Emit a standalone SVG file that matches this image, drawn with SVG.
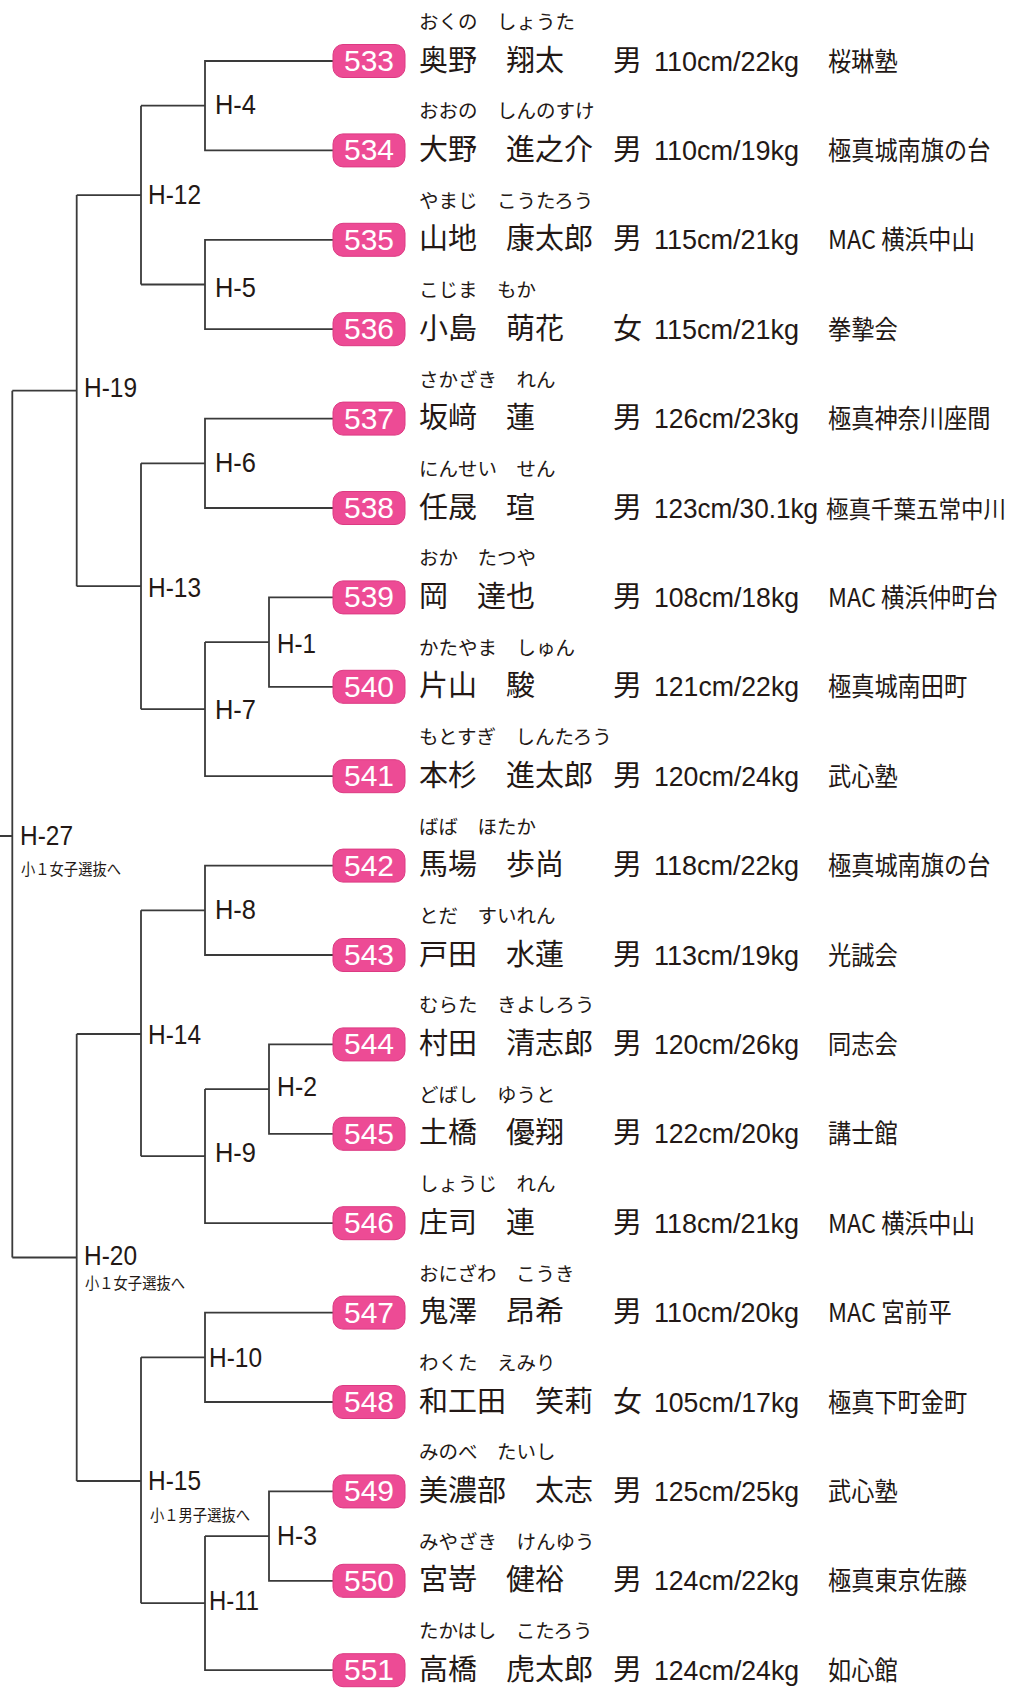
<svg xmlns="http://www.w3.org/2000/svg" width="1026" height="1691" viewBox="0 0 1026 1691">
<style>
.ln{fill:none;stroke:#3a3a3a;stroke-width:1.8}
.badge{fill:#ED4B95;stroke:#DC3A82;stroke-width:1}
.num{font-family:"Liberation Sans",sans-serif;font-size:30px;fill:#fff;text-anchor:middle}
.ruby{font-family:"Noto Sans CJK JP",sans-serif;font-size:19.5px;fill:#231815}
.nm{font-family:"Noto Sans CJK JP",sans-serif;font-size:29px;fill:#231815}
.ms{font-family:"Liberation Sans",sans-serif;font-size:28px;fill:#231815}
.dj{font-family:"Noto Sans CJK JP",sans-serif;font-size:26px;fill:#231815}
.hl{font-family:"Liberation Sans",sans-serif;font-size:27px;fill:#231815}
.sub{font-family:"Noto Sans CJK JP",sans-serif;font-size:16px;fill:#231815}
</style>
<rect width="1026" height="1691" fill="#fff"/>
<g id="connectors" class="ln">
<path d="M333 61H205V150.4H333M205 105.7H141"/>
<path d="M333 239.8H205V329.2H333M205 284.5H141"/>
<path d="M141 105.7V284.5M141 195.1H76.7"/>
<path d="M333 418.6H205V508H333M205 463.3H141"/>
<path d="M333 597.4H269V686.8H333M269 642.1H205"/>
<path d="M333 776.2H205V642.1M205 709.2H141"/>
<path d="M141 463.3V709.2M141 586.2H76.7"/>
<path d="M76.7 195.1V586.2M76.7 390.7H12.3"/>
<path d="M12.3 390.7V1257.5M12.3 836H0"/>
<path d="M333 865.6H205V955H333M205 910.3H141"/>
<path d="M333 1044.4H269V1133.8H333M269 1089.1H205"/>
<path d="M333 1223.2H205V1089.1M205 1156.2H141"/>
<path d="M141 910.3V1156.2M141 1034H76.7"/>
<path d="M333 1312.6H205V1402H333M205 1357.3H141"/>
<path d="M333 1491.4H269V1580.8H333M269 1536.1H205"/>
<path d="M333 1670.2H205V1536.1M205 1603.2H141"/>
<path d="M141 1357.3V1603.2M141 1481H76.7"/>
<path d="M76.7 1034V1481M76.7 1257.5H12.3"/>
</g>
<g id="H-4"><text class="hl" x="215" y="114" textLength="41" lengthAdjust="spacingAndGlyphs">H-4</text></g>
<g id="H-5"><text class="hl" x="215" y="297" textLength="41" lengthAdjust="spacingAndGlyphs">H-5</text></g>
<g id="H-12"><text class="hl" x="148" y="204" textLength="53" lengthAdjust="spacingAndGlyphs">H-12</text></g>
<g id="H-19"><text class="hl" x="84" y="397" textLength="53" lengthAdjust="spacingAndGlyphs">H-19</text></g>
<g id="H-6"><text class="hl" x="215" y="471.5" textLength="41" lengthAdjust="spacingAndGlyphs">H-6</text></g>
<g id="H-13"><text class="hl" x="148" y="596.5" textLength="53" lengthAdjust="spacingAndGlyphs">H-13</text></g>
<g id="H-1"><text class="hl" x="277" y="653" textLength="39" lengthAdjust="spacingAndGlyphs">H-1</text></g>
<g id="H-7"><text class="hl" x="215" y="719" textLength="41" lengthAdjust="spacingAndGlyphs">H-7</text></g>
<g id="H-27"><text class="hl" x="20" y="845" textLength="53" lengthAdjust="spacingAndGlyphs">H-27</text><text class="sub" x="21" y="875" textLength="100" lengthAdjust="spacingAndGlyphs">小１女子選抜へ</text></g>
<g id="H-8"><text class="hl" x="215" y="919" textLength="41" lengthAdjust="spacingAndGlyphs">H-8</text></g>
<g id="H-14"><text class="hl" x="148" y="1044" textLength="53" lengthAdjust="spacingAndGlyphs">H-14</text></g>
<g id="H-2"><text class="hl" x="277" y="1096" textLength="40" lengthAdjust="spacingAndGlyphs">H-2</text></g>
<g id="H-9"><text class="hl" x="215" y="1162" textLength="41" lengthAdjust="spacingAndGlyphs">H-9</text></g>
<g id="H-20"><text class="hl" x="84" y="1265" textLength="53" lengthAdjust="spacingAndGlyphs">H-20</text><text class="sub" x="85" y="1289" textLength="100" lengthAdjust="spacingAndGlyphs">小１女子選抜へ</text></g>
<g id="H-10"><text class="hl" x="209" y="1367" textLength="53" lengthAdjust="spacingAndGlyphs">H-10</text></g>
<g id="H-15"><text class="hl" x="148" y="1490" textLength="53" lengthAdjust="spacingAndGlyphs">H-15</text><text class="sub" x="150" y="1521" textLength="100" lengthAdjust="spacingAndGlyphs">小１男子選抜へ</text></g>
<g id="H-3"><text class="hl" x="277" y="1545" textLength="40" lengthAdjust="spacingAndGlyphs">H-3</text></g>
<g id="H-11"><text class="hl" x="209" y="1610" textLength="50" lengthAdjust="spacingAndGlyphs">H-11</text></g>

<g id="p533" transform="translate(0 61)"><rect class="badge" x="333" y="-16.5" width="72" height="33" rx="10"/><text class="num" x="369" y="10">533</text><text class="ruby" x="419" y="-32">おくの　しょうた</text><text class="nm" x="419" y="9.5">奥野　翔太</text><text class="nm" x="613" y="9.5">男</text><text class="ms" x="654" y="9.5" textLength="145" lengthAdjust="spacingAndGlyphs">110cm/22kg</text><text class="dj" x="828" y="9.5" textLength="69.6" lengthAdjust="spacingAndGlyphs">桜琳塾</text></g>
<g id="p534" transform="translate(0 150.4)"><rect class="badge" x="333" y="-16.5" width="72" height="33" rx="10"/><text class="num" x="369" y="10">534</text><text class="ruby" x="419" y="-32">おおの　しんのすけ</text><text class="nm" x="419" y="9.5">大野　進之介</text><text class="nm" x="613" y="9.5">男</text><text class="ms" x="654" y="9.5" textLength="145" lengthAdjust="spacingAndGlyphs">110cm/19kg</text><text class="dj" x="828" y="9.5" textLength="162.4" lengthAdjust="spacingAndGlyphs">極真城南旗の台</text></g>
<g id="p535" transform="translate(0 239.8)"><rect class="badge" x="333" y="-16.5" width="72" height="33" rx="10"/><text class="num" x="369" y="10">535</text><text class="ruby" x="419" y="-32">やまじ　こうたろう</text><text class="nm" x="419" y="9.5">山地　康太郎</text><text class="nm" x="613" y="9.5">男</text><text class="ms" x="654" y="9.5" textLength="145" lengthAdjust="spacingAndGlyphs">115cm/21kg</text><text class="dj" x="828" y="9.5" textLength="146.8" lengthAdjust="spacingAndGlyphs">MAC 横浜中山</text></g>
<g id="p536" transform="translate(0 329.2)"><rect class="badge" x="333" y="-16.5" width="72" height="33" rx="10"/><text class="num" x="369" y="10">536</text><text class="ruby" x="419" y="-32">こじま　もか</text><text class="nm" x="419" y="9.5">小島　萌花</text><text class="nm" x="613" y="9.5">女</text><text class="ms" x="654" y="9.5" textLength="145" lengthAdjust="spacingAndGlyphs">115cm/21kg</text><text class="dj" x="828" y="9.5" textLength="69.6" lengthAdjust="spacingAndGlyphs">拳摯会</text></g>
<g id="p537" transform="translate(0 418.6)"><rect class="badge" x="333" y="-16.5" width="72" height="33" rx="10"/><text class="num" x="369" y="10">537</text><text class="ruby" x="419" y="-32">さかざき　れん</text><text class="nm" x="419" y="9.5">坂﨑　蓮</text><text class="nm" x="613" y="9.5">男</text><text class="ms" x="654" y="9.5" textLength="145" lengthAdjust="spacingAndGlyphs">126cm/23kg</text><text class="dj" x="828" y="9.5" textLength="162.4" lengthAdjust="spacingAndGlyphs">極真神奈川座間</text></g>
<g id="p538" transform="translate(0 508)"><rect class="badge" x="333" y="-16.5" width="72" height="33" rx="10"/><text class="num" x="369" y="10">538</text><text class="ruby" x="419" y="-32">にんせい　せん</text><text class="nm" x="419" y="9.5">任晟　瑄</text><text class="nm" x="613" y="9.5">男</text><text class="ms" x="654" y="9.5" textLength="164" lengthAdjust="spacingAndGlyphs">123cm/30.1kg</text><text class="dj" x="826" y="9.5" style="font-size:24px" textLength="180" lengthAdjust="spacingAndGlyphs">極真千葉五常中川</text></g>
<g id="p539" transform="translate(0 597.4)"><rect class="badge" x="333" y="-16.5" width="72" height="33" rx="10"/><text class="num" x="369" y="10">539</text><text class="ruby" x="419" y="-32">おか　たつや</text><text class="nm" x="419" y="9.5">岡　達也</text><text class="nm" x="613" y="9.5">男</text><text class="ms" x="654" y="9.5" textLength="145" lengthAdjust="spacingAndGlyphs">108cm/18kg</text><text class="dj" x="828" y="9.5" textLength="170" lengthAdjust="spacingAndGlyphs">MAC 横浜仲町台</text></g>
<g id="p540" transform="translate(0 686.8)"><rect class="badge" x="333" y="-16.5" width="72" height="33" rx="10"/><text class="num" x="369" y="10">540</text><text class="ruby" x="419" y="-32">かたやま　しゅん</text><text class="nm" x="419" y="9.5">片山　駿</text><text class="nm" x="613" y="9.5">男</text><text class="ms" x="654" y="9.5" textLength="145" lengthAdjust="spacingAndGlyphs">121cm/22kg</text><text class="dj" x="828" y="9.5" textLength="139.2" lengthAdjust="spacingAndGlyphs">極真城南田町</text></g>
<g id="p541" transform="translate(0 776.2)"><rect class="badge" x="333" y="-16.5" width="72" height="33" rx="10"/><text class="num" x="369" y="10">541</text><text class="ruby" x="419" y="-32">もとすぎ　しんたろう</text><text class="nm" x="419" y="9.5">本杉　進太郎</text><text class="nm" x="613" y="9.5">男</text><text class="ms" x="654" y="9.5" textLength="145" lengthAdjust="spacingAndGlyphs">120cm/24kg</text><text class="dj" x="828" y="9.5" textLength="69.6" lengthAdjust="spacingAndGlyphs">武心塾</text></g>
<g id="p542" transform="translate(0 865.6)"><rect class="badge" x="333" y="-16.5" width="72" height="33" rx="10"/><text class="num" x="369" y="10">542</text><text class="ruby" x="419" y="-32">ばば　ほたか</text><text class="nm" x="419" y="9.5">馬場　歩尚</text><text class="nm" x="613" y="9.5">男</text><text class="ms" x="654" y="9.5" textLength="145" lengthAdjust="spacingAndGlyphs">118cm/22kg</text><text class="dj" x="828" y="9.5" textLength="162.4" lengthAdjust="spacingAndGlyphs">極真城南旗の台</text></g>
<g id="p543" transform="translate(0 955)"><rect class="badge" x="333" y="-16.5" width="72" height="33" rx="10"/><text class="num" x="369" y="10">543</text><text class="ruby" x="419" y="-32">とだ　すいれん</text><text class="nm" x="419" y="9.5">戸田　水蓮</text><text class="nm" x="613" y="9.5">男</text><text class="ms" x="654" y="9.5" textLength="145" lengthAdjust="spacingAndGlyphs">113cm/19kg</text><text class="dj" x="828" y="9.5" textLength="69.6" lengthAdjust="spacingAndGlyphs">光誠会</text></g>
<g id="p544" transform="translate(0 1044.4)"><rect class="badge" x="333" y="-16.5" width="72" height="33" rx="10"/><text class="num" x="369" y="10">544</text><text class="ruby" x="419" y="-32">むらた　きよしろう</text><text class="nm" x="419" y="9.5">村田　清志郎</text><text class="nm" x="613" y="9.5">男</text><text class="ms" x="654" y="9.5" textLength="145" lengthAdjust="spacingAndGlyphs">120cm/26kg</text><text class="dj" x="828" y="9.5" textLength="69.6" lengthAdjust="spacingAndGlyphs">同志会</text></g>
<g id="p545" transform="translate(0 1133.8)"><rect class="badge" x="333" y="-16.5" width="72" height="33" rx="10"/><text class="num" x="369" y="10">545</text><text class="ruby" x="419" y="-32">どばし　ゆうと</text><text class="nm" x="419" y="9.5">土橋　優翔</text><text class="nm" x="613" y="9.5">男</text><text class="ms" x="654" y="9.5" textLength="145" lengthAdjust="spacingAndGlyphs">122cm/20kg</text><text class="dj" x="828" y="9.5" textLength="69.6" lengthAdjust="spacingAndGlyphs">講士館</text></g>
<g id="p546" transform="translate(0 1223.2)"><rect class="badge" x="333" y="-16.5" width="72" height="33" rx="10"/><text class="num" x="369" y="10">546</text><text class="ruby" x="419" y="-32">しょうじ　れん</text><text class="nm" x="419" y="9.5">庄司　連</text><text class="nm" x="613" y="9.5">男</text><text class="ms" x="654" y="9.5" textLength="145" lengthAdjust="spacingAndGlyphs">118cm/21kg</text><text class="dj" x="828" y="9.5" textLength="146.8" lengthAdjust="spacingAndGlyphs">MAC 横浜中山</text></g>
<g id="p547" transform="translate(0 1312.6)"><rect class="badge" x="333" y="-16.5" width="72" height="33" rx="10"/><text class="num" x="369" y="10">547</text><text class="ruby" x="419" y="-32">おにざわ　こうき</text><text class="nm" x="419" y="9.5">鬼澤　昂希</text><text class="nm" x="613" y="9.5">男</text><text class="ms" x="654" y="9.5" textLength="145" lengthAdjust="spacingAndGlyphs">110cm/20kg</text><text class="dj" x="828" y="9.5" textLength="123.6" lengthAdjust="spacingAndGlyphs">MAC 宮前平</text></g>
<g id="p548" transform="translate(0 1402)"><rect class="badge" x="333" y="-16.5" width="72" height="33" rx="10"/><text class="num" x="369" y="10">548</text><text class="ruby" x="419" y="-32">わくた　えみり</text><text class="nm" x="419" y="9.5">和工田　笑莉</text><text class="nm" x="613" y="9.5">女</text><text class="ms" x="654" y="9.5" textLength="145" lengthAdjust="spacingAndGlyphs">105cm/17kg</text><text class="dj" x="828" y="9.5" textLength="139.2" lengthAdjust="spacingAndGlyphs">極真下町金町</text></g>
<g id="p549" transform="translate(0 1491.4)"><rect class="badge" x="333" y="-16.5" width="72" height="33" rx="10"/><text class="num" x="369" y="10">549</text><text class="ruby" x="419" y="-32">みのべ　たいし</text><text class="nm" x="419" y="9.5">美濃部　太志</text><text class="nm" x="613" y="9.5">男</text><text class="ms" x="654" y="9.5" textLength="145" lengthAdjust="spacingAndGlyphs">125cm/25kg</text><text class="dj" x="828" y="9.5" textLength="69.6" lengthAdjust="spacingAndGlyphs">武心塾</text></g>
<g id="p550" transform="translate(0 1580.8)"><rect class="badge" x="333" y="-16.5" width="72" height="33" rx="10"/><text class="num" x="369" y="10">550</text><text class="ruby" x="419" y="-32">みやざき　けんゆう</text><text class="nm" x="419" y="9.5">宮嵜　健裕</text><text class="nm" x="613" y="9.5">男</text><text class="ms" x="654" y="9.5" textLength="145" lengthAdjust="spacingAndGlyphs">124cm/22kg</text><text class="dj" x="828" y="9.5" textLength="139.2" lengthAdjust="spacingAndGlyphs">極真東京佐藤</text></g>
<g id="p551" transform="translate(0 1670.2)"><rect class="badge" x="333" y="-16.5" width="72" height="33" rx="10"/><text class="num" x="369" y="10">551</text><text class="ruby" x="419" y="-32">たかはし　こたろう</text><text class="nm" x="419" y="9.5">高橋　虎太郎</text><text class="nm" x="613" y="9.5">男</text><text class="ms" x="654" y="9.5" textLength="145" lengthAdjust="spacingAndGlyphs">124cm/24kg</text><text class="dj" x="828" y="9.5" textLength="69.6" lengthAdjust="spacingAndGlyphs">如心館</text></g>
</svg>
